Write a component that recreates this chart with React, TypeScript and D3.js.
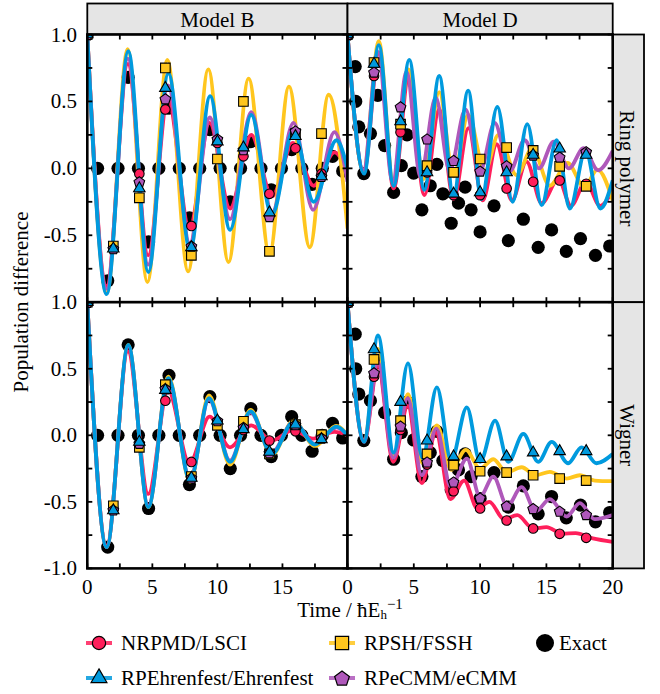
import React from "react";
import * as d3 from "d3";

type P = [number, number];

const FONT = "'Liberation Serif', 'Times New Roman', serif";
const TXT = { fontFamily: FONT };

// time points where the method markers sit
const markerTimes = [0, 2, 4, 6, 8, 10, 12, 14, 16, 18];

// ---- Model B, ring polymer (curve extrema)
const lsciBRing: P[] = [[0, 1], [1.49, -0.88], [3.12, 0.78], [4.68, -0.65], [6.2, 0.52], [7.85, -0.45], [9.4, 0.34], [10.97, -0.3], [12.6, 0.25], [14.2, -0.21], [15.8, 0.19], [17.4, -0.13], [19.0, 0.12], [20, -0.02]];
const fsshBRing: P[] = [[0, 1], [1.5, -0.93], [3.1, 0.89], [4.62, -0.85], [6.15, 0.81], [7.75, -0.77], [9.3, 0.74], [10.85, -0.7], [12.4, 0.67], [14.0, -0.64], [15.5, 0.61], [17.1, -0.59], [18.55, 0.55], [20, -0.45]];
const ecmmBRing: P[] = [[0, 1], [1.49, -0.9], [3.12, 0.82], [4.68, -0.72], [6.2, 0.62], [7.88, -0.56], [9.42, 0.38], [10.97, -0.38], [12.6, 0.42], [14.2, -0.33], [15.85, 0.34], [17.35, -0.31], [19.0, 0.27], [20, -0.1]];
const ehrBRing: P[] = [[0, 1], [1.49, -0.94], [3.15, 0.875], [4.69, -0.775], [6.23, 0.71], [7.9, -0.61], [9.44, 0.54], [10.97, -0.46], [12.6, 0.4], [14.18, -0.35], [15.85, 0.29], [17.4, -0.25], [19.15, 0.21], [20, 0.0]];
const lsciBRingMarks = [1, -0.6, -0.04, 0.44, -0.43, 0.19, 0.09, -0.19, 0.15, -0.04];
const fsshBRingMarks = [1, -0.58, -0.22, 0.75, -0.65, 0.07, 0.5, -0.62, 0.26, 0.26];
const ecmmBRingMarks = [1, -0.6, -0.1, 0.52, -0.58, 0.22, 0.14, -0.36, 0.28, -0.06];
const ehrBRingMarks = [1, -0.6, -0.15, 0.6, -0.59, 0.2, 0.155, -0.33, 0.24, -0.06];

// ---- Model B, Wigner
const lsciBWig: P[] = [[0, 1], [1.49, -0.83], [3.12, 0.63], [4.69, -0.44], [6.2, 0.34], [7.85, -0.21], [9.4, 0.14], [10.97, -0.09], [12.6, 0.075], [14.2, -0.04], [15.8, 0.04], [17.35, -0.025], [19.0, 0.025], [20, 0.0]];
const fsshBWig: P[] = [[0, 1], [1.49, -0.84], [3.15, 0.68], [4.69, -0.54], [6.23, 0.44], [7.9, -0.35], [9.35, 0.3], [10.97, -0.22], [12.55, 0.19], [14.18, -0.15], [15.85, 0.11], [17.5, -0.08], [19.15, 0.07], [20, 0.0]];
const ecmmBWig: P[] = [[0, 1], [1.49, -0.84], [3.15, 0.67], [4.69, -0.53], [6.23, 0.42], [7.9, -0.33], [9.35, 0.27], [10.97, -0.19], [12.55, 0.17], [14.18, -0.13], [15.85, 0.1], [17.5, -0.065], [19.15, 0.06], [20, 0.0]];
const ehrBWig: P[] = [[0, 1], [1.49, -0.84], [3.15, 0.68], [4.69, -0.54], [6.23, 0.43], [7.9, -0.34], [9.35, 0.28], [10.97, -0.2], [12.55, 0.18], [14.18, -0.14], [15.85, 0.1], [17.5, -0.07], [19.15, 0.065], [20, 0.0]];
const lsciBWigMarks = [1, -0.55, -0.06, 0.26, -0.2, 0.1, 0.04, -0.04, 0.03, 0.0];
const fsshBWigMarks = [1, -0.53, -0.09, 0.38, -0.31, 0.075, 0.105, -0.14, 0.08, 0.005];
const ecmmBWigMarks = [1, -0.56, -0.06, 0.35, -0.32, 0.11, 0.06, -0.13, 0.08, -0.02];
const ehrBWigMarks = [1, -0.565, -0.05, 0.34, -0.32, 0.11, 0.045, -0.125, 0.08, -0.03];

// ---- Model D, ring polymer
const lsciDRing: P[] = [[0, 1], [1.23, -0.03], [2.36, 0.86], [3.48, -0.15], [4.61, 0.67], [5.8, -0.2], [6.92, 0.445], [8.0, -0.23], [9.12, 0.3], [10.2, -0.24], [11.25, 0.18], [12.4, -0.24], [13.5, 0.05], [14.64, -0.26], [15.9, -0.08], [16.85, -0.28], [17.97, -0.1], [19.05, -0.28], [20, -0.16]];
const fsshDRing: P[] = [[0, 1], [1.2, -0.02], [2.36, 0.95], [3.45, -0.1], [4.6, 0.74], [5.75, -0.08], [6.92, 0.57], [8.0, -0.06], [9.1, 0.4], [10.35, -0.02], [11.38, 0.25], [12.75, -0.05], [13.95, 0.15], [15.25, -0.13], [16.6, 0.04], [17.85, -0.14], [18.85, -0.01], [20, -0.24]];
const ecmmDRing: P[] = [[0, 1], [1.2, -0.01], [2.3, 0.87], [3.4, -0.1], [4.45, 0.72], [5.5, -0.06], [6.65, 0.53], [7.7, -0.02], [8.9, 0.44], [10.0, -0.02], [11.1, 0.34], [12.25, -0.02], [13.35, 0.21], [14.45, 0.0], [15.55, 0.2], [16.7, 0.0], [17.8, 0.15], [18.9, -0.015], [20, 0.13]];
const ehrDRing: P[] = [[0, 1], [1.25, -0.04], [2.36, 0.92], [3.48, -0.13], [4.66, 0.81], [5.79, -0.16], [6.92, 0.69], [7.99, -0.21], [9.1, 0.58], [10.1, -0.23], [11.3, 0.46], [12.45, -0.25], [13.56, 0.33], [14.64, -0.275], [15.77, 0.21], [16.77, -0.3], [17.95, 0.134], [19.07, -0.3], [20, -0.09]];
const lsciDRingMarks = [1, 0.69, 0.27, -0.03, -0.2, -0.2, -0.15, -0.1, -0.09, -0.115];
const fsshDRingMarks = [1, 0.79, 0.33, 0.02, -0.03, 0.07, 0.155, 0.134, 0.015, -0.134];
const ecmmDRingMarks = [1, 0.72, 0.46, 0.22, 0.06, -0.02, 0.02, 0.1, 0.085, 0.125];
const ehrDRingMarks = [1, 0.78, 0.35, -0.03, -0.19, -0.18, -0.03, 0.1, 0.147, 0.1];

// ---- Model D, Wigner
const lsciDWig: P[] = [[0, 1], [1.25, -0.05], [2.3, 0.52], [3.45, -0.2], [4.55, 0.22], [5.6, -0.36], [6.67, 0.02], [7.75, -0.48], [8.8, -0.34], [9.8, -0.55], [10.7, -0.5], [11.8, -0.63], [12.8, -0.6], [14.0, -0.7], [15.0, -0.69], [16.2, -0.74], [17.2, -0.735], [18.5, -0.775], [20, -0.8]];
const fsshDWig: P[] = [[0, 1], [1.25, -0.04], [2.3, 0.65], [3.48, -0.15], [4.56, 0.31], [5.66, -0.21], [6.74, 0.075], [7.82, -0.26], [8.92, -0.11], [10.0, -0.25], [11.0, -0.18], [12.0, -0.28], [13.13, -0.24], [14.2, -0.3], [15.26, -0.275], [16.52, -0.325], [17.52, -0.3], [18.65, -0.34], [20, -0.345]];
const ecmmDWig: P[] = [[0, 1], [1.25, -0.04], [2.3, 0.55], [3.45, -0.17], [4.55, 0.28], [5.6, -0.3], [6.7, 0.05], [7.8, -0.39], [9.0, -0.175], [10.0, -0.46], [11.0, -0.31], [12.05, -0.53], [13.13, -0.39], [14.2, -0.57], [15.26, -0.48], [16.52, -0.61], [17.52, -0.51], [18.65, -0.63], [20, -0.6]];
const ehrDWig: P[] = [[0, 1], [1.25, -0.05], [2.3, 0.75], [3.48, -0.13], [4.56, 0.54], [5.66, -0.17], [6.74, 0.36], [7.82, -0.19], [9.0, 0.21], [10.0, -0.2], [11.13, 0.11], [12.13, -0.2], [13.26, 0.01], [14.38, -0.2], [15.4, -0.05], [16.64, -0.21], [17.65, -0.09], [18.77, -0.21], [20, -0.14]];
const lsciDWigMarks = [1, 0.44, 0.04, -0.22, -0.42, -0.55, -0.64, -0.7, -0.74, -0.77];
const fsshDWigMarks = [1, 0.57, 0.11, -0.14, -0.225, -0.27, -0.28, -0.3, -0.325, -0.34];
const ecmmDWigMarks = [1, 0.47, 0.07, -0.2, -0.35, -0.47, -0.53, -0.55, -0.57, -0.595];
const ehrDWigMarks = [1, 0.645, 0.25, -0.04, -0.16, -0.18, -0.16, -0.13, -0.12, -0.12];

// ---- exact results (same for both sampling schemes of a model)
const exactB: P[] = [[0, 1], [0.79, 0], [1.57, -0.84], [2.36, 0], [3.14, 0.68], [3.93, 0], [4.71, -0.55], [5.5, 0], [6.28, 0.45], [7.07, 0], [7.85, -0.37], [8.64, 0], [9.42, 0.29], [10.21, 0], [10.99, -0.25], [11.78, 0], [12.57, 0.2], [13.35, 0], [14.14, -0.16], [14.92, 0], [15.71, 0.14], [16.49, 0], [17.28, -0.12], [18.06, 0], [18.85, 0.09], [19.63, -0.02]];
const exactD: P[] = [[0, 1], [0.58, 0.76], [0.62, 0.5], [0.85, 0.31], [1.23, -0.04], [1.73, 0.26], [2.28, 0.545], [2.8, 0.17], [3.48, -0.18], [4.06, 0.02], [4.49, 0.25], [4.99, -0.035], [5.61, -0.31], [6.24, -0.13], [6.74, 0.03], [7.19, -0.19], [7.82, -0.41], [8.37, -0.26], [8.87, -0.14], [9.32, -0.31], [10.0, -0.475], [11.05, -0.28], [12.13, -0.54], [13.26, -0.38], [14.38, -0.59], [15.39, -0.46], [16.5, -0.62], [17.57, -0.525], [18.7, -0.65], [19.77, -0.58]];

const xTicks = [0, 2.5, 5, 7.5, 10, 12.5, 15, 17.5, 20];
const yTicks = [-1, -0.75, -0.5, -0.25, 0, 0.25, 0.5, 0.75, 1];
const xLabelsLeft = [0, 5, 10, 15];
const xLabelsRight = [0, 5, 10, 15, 20];
const yLabelsTop = [1, 0.5, 0, -0.5];
const yLabelsBottom = [1, 0.5, 0, -0.5, -1];

// drawing order: LSCI, FSSH, eCMM, Ehrenfest
const series = [
  { label: "NRPMD/LSCI", color: "#FF1F5B", shape: "circle" },
  { label: "RPSH/FSSH", color: "#FFC61E", shape: "square" },
  { label: "RPeCMM/eCMM", color: "#AF58BA", shape: "pentagon" },
  { label: "RPEhrenfest/Ehrenfest", color: "#009ADE", shape: "triangle" },
];

const cols = [
  { x0: 87.3, x1: 347.5, label: "Model B" },
  { x0: 347.5, x1: 612.7, label: "Model D" },
];
const rows = [
  { y0: 34.5, y1: 302.2, label: "Ring polymer" },
  { y0: 302.2, y1: 568.4, label: "Wigner" },
];

const panels = [
  { id: "bR", col: 0, row: 0, lines: [lsciBRing, fsshBRing, ecmmBRing, ehrBRing], marks: [lsciBRingMarks, fsshBRingMarks, ecmmBRingMarks, ehrBRingMarks], exact: exactB },
  { id: "dR", col: 1, row: 0, lines: [lsciDRing, fsshDRing, ecmmDRing, ehrDRing], marks: [lsciDRingMarks, fsshDRingMarks, ecmmDRingMarks, ehrDRingMarks], exact: exactD },
  { id: "bW", col: 0, row: 1, lines: [lsciBWig, fsshBWig, ecmmBWig, ehrBWig], marks: [lsciBWigMarks, fsshBWigMarks, ecmmBWigMarks, ehrBWigMarks], exact: exactB },
  { id: "dW", col: 1, row: 1, lines: [lsciDWig, fsshDWig, ecmmDWig, ehrDWig], marks: [lsciDWigMarks, fsshDWigMarks, ecmmDWigMarks, ehrDWigMarks], exact: exactD },
];

function shapePath(shape: string, k: number): string {
  if (shape === "pentagon") {
    const r = 5.6 * k;
    const pts = [0, 1, 2, 3, 4].map((i) => {
      const a = -Math.PI / 2 + (i * 2 * Math.PI) / 5;
      return [r * Math.cos(a), r * Math.sin(a) + 0.6 * k];
    });
    return "M" + pts.map((p) => p.join(",")).join("L") + "Z";
  }
  if (shape === "square") return d3.symbol(d3.symbolSquare, 9.6 * 9.6 * k * k)()!;
  if (shape === "triangle") return d3.symbol(d3.symbolTriangle, 57 * k * k)()!;
  return d3.symbol(d3.symbolCircle, Math.PI * 4.8 * 4.8 * k * k)()!;
}

function Panel({ p }: { p: (typeof panels)[number] }) {
  const c = cols[p.col];
  const r = rows[p.row];
  const x = d3.scaleLinear().domain([0, 20]).range([c.x0, c.x1]);
  const y = d3.scaleLinear().domain([-1, 1]).range([r.y1, r.y0]);
  const line = d3
    .line<P>()
    .x((d) => x(d[0]))
    .y((d) => y(d[1]))
    .curve(d3.curveMonotoneX);
  const clip = `clip-${p.id}`;
  const tl = 5;

  return (
    <g>
      <defs>
        <clipPath id={clip}>
          <rect x={c.x0} y={r.y0} width={c.x1 - c.x0} height={r.y1 - r.y0} />
        </clipPath>
      </defs>
      <rect x={c.x0} y={r.y0} width={c.x1 - c.x0} height={r.y1 - r.y0} fill="#fff" />
      <g clipPath={`url(#${clip})`}>
        {p.exact.map((d, i) => (
          <circle key={i} cx={x(d[0])} cy={y(d[1])} r={6.6} fill="#000" />
        ))}
        {p.lines.map((ln, i) => (
          <path key={i} d={line(ln)!} fill="none" stroke={series[i].color} strokeWidth={3.8} strokeLinejoin="round" />
        ))}
        {p.marks.map((vals, i) =>
          vals.map((v, j) => (
            <path
              key={`${i}-${j}`}
              d={shapePath(series[i].shape, 1)}
              transform={`translate(${x(markerTimes[j])},${y(v)})`}
              fill={series[i].color}
              stroke="#000"
              strokeWidth={1.1}
            />
          ))
        )}
      </g>
      {/* ticks on all four sides, pointing inward */}
      <g stroke="#000" strokeWidth={1.8}>
        {xTicks.map((t) => (
          <g key={`x${t}`}>
            <line x1={x(t)} x2={x(t)} y1={r.y1} y2={r.y1 - tl} />
            <line x1={x(t)} x2={x(t)} y1={r.y0} y2={r.y0 + tl} />
          </g>
        ))}
        {yTicks.map((t) => (
          <g key={`y${t}`}>
            <line x1={c.x0} x2={c.x0 + tl} y1={y(t)} y2={y(t)} />
            <line x1={c.x1} x2={c.x1 - tl} y1={y(t)} y2={y(t)} />
          </g>
        ))}
      </g>
      <rect x={c.x0} y={r.y0} width={c.x1 - c.x0} height={r.y1 - r.y0} fill="none" stroke="#000" strokeWidth={2.6} />
      {p.col === 0 &&
        (p.row === 0 ? yLabelsTop : yLabelsBottom).map((v) => (
          <text key={`yl${v}`} x={77} y={y(v) + 7} textAnchor="end" fontSize={21} style={TXT}>
            {v.toFixed(1)}
          </text>
        ))}
      {p.row === 1 &&
        (p.col === 0 ? xLabelsLeft : xLabelsRight).map((v) => (
          <text key={`xl${v}`} x={x(v)} y={594} textAnchor="middle" fontSize={21} style={TXT}>
            {v}
          </text>
        ))}
    </g>
  );
}

function Legend() {
  const row1 = 643;
  const row2 = 678;
  const items = [
    { s: series[0], cx: 99, cy: row1 },
    { s: series[1], cx: 342, cy: row1 },
    { s: series[3], cx: 99, cy: row2 },
    { s: series[2], cx: 342, cy: row2 },
  ];
  return (
    <g>
      {items.map((it) => (
        <g key={it.s.label}>
          <line x1={it.cx - 13} x2={it.cx + 13} y1={it.cy} y2={it.cy} stroke={it.s.color} strokeWidth={4} opacity={0.85} />
          <path d={shapePath(it.s.shape, 1.38)} transform={`translate(${it.cx},${it.cy})`} fill={it.s.color} stroke="#000" strokeWidth={1.2} />
          <text x={it.cx + 22} y={it.cy + 7} fontSize={21} style={TXT}>
            {it.s.label}
          </text>
        </g>
      ))}
      <circle cx={545} cy={row1} r={9} fill="#000" />
      <text x={559} y={row1 + 7} fontSize={21} style={TXT}>
        Exact
      </text>
    </g>
  );
}

export default function App() {
  const stripTop = 3.5;
  const stripRight = 644;
  return (
    <svg width={660} height={694} style={{ position: "absolute", left: 0, top: 0 }}>
      <rect width={660} height={694} fill="#fff" />
      {cols.map((c) => (
        <g key={c.label}>
          <rect x={c.x0} y={stripTop} width={c.x1 - c.x0} height={rows[0].y0 - stripTop} fill="#e5e5e5" stroke="#000" strokeWidth={1.8} />
          <text x={(c.x0 + c.x1) / 2} y={27} textAnchor="middle" fontSize={21} style={TXT}>
            {c.label}
          </text>
        </g>
      ))}
      {rows.map((r) => {
        const x0 = cols[1].x1;
        const cx = (x0 + stripRight) / 2;
        const cy = (r.y0 + r.y1) / 2;
        return (
          <g key={r.label}>
            <rect x={x0} y={r.y0} width={stripRight - x0} height={r.y1 - r.y0} fill="#e5e5e5" stroke="#000" strokeWidth={1.8} />
            <text transform={`translate(${cx},${cy}) rotate(90)`} y={8} textAnchor="middle" fontSize={21} style={TXT}>
              {r.label}
            </text>
          </g>
        );
      })}
      {panels.map((p) => (
        <Panel key={p.id} p={p} />
      ))}
      <text transform="translate(28,302) rotate(-90)" textAnchor="middle" fontSize={21} style={TXT}>
        Population difference
      </text>
      <text x={350} y={617} textAnchor="middle" fontSize={21} style={TXT}>
        Time / ħE
        <tspan fontSize={13} dy={2}>
          h
        </tspan>
        <tspan fontSize={15} dy={-10}>
          −1
        </tspan>
      </text>
      <Legend />
    </svg>
  );
}
